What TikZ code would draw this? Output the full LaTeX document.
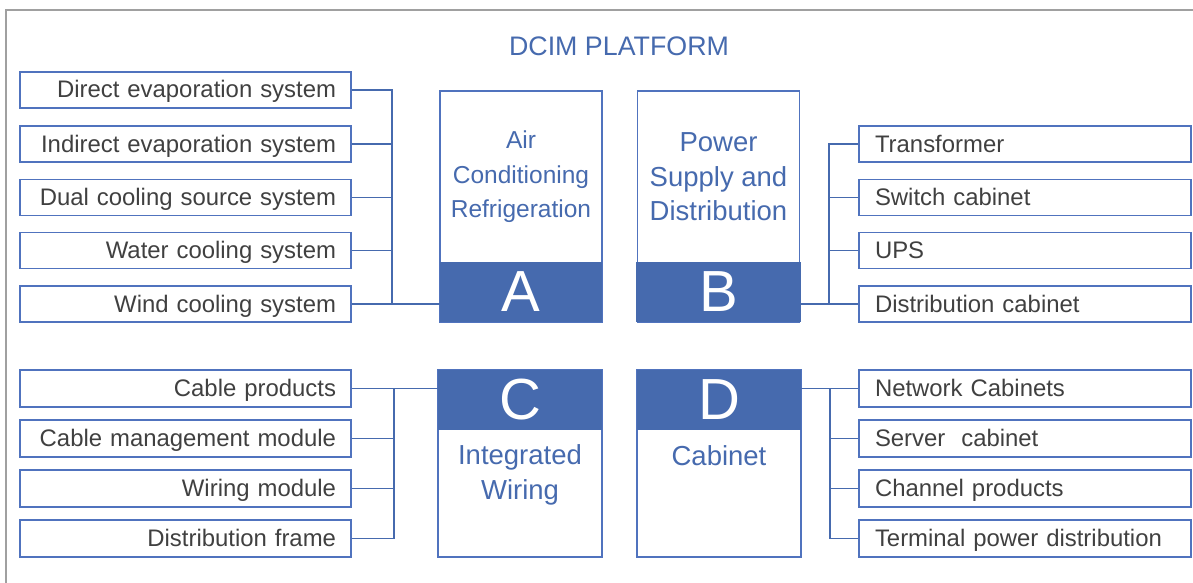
\documentclass[tikz,border=0pt]{standalone}
\usepackage{fontspec}
\setmainfont{Liberation Sans}
\definecolor{dblue}{RGB}{70,106,174}
\definecolor{lblue}{RGB}{80,115,190}
\definecolor{tgray}{RGB}{64,64,64}
\definecolor{bgray}{RGB}{160,160,160}
\tikzset{
  lbox/.style={draw=lblue, line width=1.3pt, minimum height=36pt, inner xsep=15pt, text width=301pt, text height=18pt, text depth=2pt, align=right, text=tgray, font=\fontsize{23.9}{28}\selectfont},
  rbox/.style={draw=lblue, line width=1.3pt, minimum height=36pt, inner xsep=16pt, text width=300pt, text height=18pt, text depth=2pt, align=left, text=tgray, font=\fontsize{23.9}{28}\selectfont},
  bigbox/.style={draw=lblue, line width=1.2pt, minimum width=162pt, inner sep=0pt},
  letbox/.style={fill=dblue, minimum width=162pt, minimum height=60pt, inner sep=0pt, text=white, font=\fontsize{58}{60}\selectfont},
  ctext/.style={align=center, text=dblue, inner sep=0pt},
  conn/.style={draw=dblue, line width=1.2pt},
}
\begin{document}
\begin{tikzpicture}[x=1pt,y=-1pt]
\useasboundingbox (0,0) rectangle (1193,583);
\draw[bgray, line width=2pt] (6,583) -- (6,10) -- (1193,10);
\node[ctext, font=\fontsize{26.8}{30}\selectfont] (title) at (619,46) {DCIM PLATFORM};

% left top boxes
\node[lbox] (l1) at (185.5,90) {Direct evaporation system};
\node[lbox] (l2) at (185.5,144) {Indirect evaporation system};
\node[lbox] (l3) at (185.5,197.5) {Dual cooling source system};
\node[lbox] (l4) at (185.5,250.5) {Water cooling system};
\node[lbox] (l5) at (185.5,304) {Wind cooling system};

% right top boxes
\node[rbox] (r1) at (1025,144) {Transformer};
\node[rbox] (r2) at (1025,197.5) {Switch cabinet};
\node[rbox] (r3) at (1025,250.5) {UPS};
\node[rbox] (r4) at (1025,304) {Distribution cabinet};

% left bottom boxes
\node[lbox, minimum height=37pt] (l6) at (185.5,388.5) {Cable products};
\node[lbox, minimum height=37pt] (l7) at (185.5,438.5) {Cable management module};
\node[lbox, minimum height=37pt] (l8) at (185.5,488.5) {Wiring module};
\node[lbox, minimum height=37pt] (l9) at (185.5,538.5) {Distribution frame};

% right bottom boxes
\node[rbox, minimum height=37pt] (r5) at (1025,388.5) {Network Cabinets};
\node[rbox, minimum height=37pt] (r6) at (1025,438.5) {Server\ \ cabinet};
\node[rbox, minimum height=37pt] (r7) at (1025,488.5) {Channel products};
\node[rbox, minimum height=37pt] (r8) at (1025,538.5) {Terminal power distribution};

% central boxes
\node[bigbox, minimum height=231pt] (A) at (521,206.5) {};
\node[letbox] (Al) at (521,292) {A};
\node[ctext, font=\fontsize{24.5}{34.5}\selectfont] (At) at (521,177) {Air\\Conditioning\\Refrigeration};

\node[bigbox, minimum height=231pt] (B) at (718.5,206.5) {};
\node[letbox, minimum width=165pt] (Bl) at (718.5,292) {B};
\node[ctext, font=\fontsize{27.5}{34.5}\selectfont] (Bt) at (718.5,177) {Power\\Supply and\\Distribution};

\node[bigbox, minimum height=187pt, minimum width=164pt] (C) at (520,463.5) {};
\node[letbox, minimum width=164pt] (Cl) at (520,400) {C};
\node[ctext, font=\fontsize{27.5}{35}\selectfont] (Ct) at (520,475) {Integrated\\Wiring};

\node[bigbox, minimum height=187pt, minimum width=164pt] (D) at (719,463.5) {};
\node[letbox, minimum width=164pt] (Dl) at (719,400) {D};
\node[ctext, font=\fontsize{27.5}{35}\selectfont] (Dt) at (719,456) {Cabinet};

% buses
\coordinate (bA) at (392,0);
\coordinate (bB) at (829,0);
\coordinate (bC) at (394,0);
\coordinate (bD) at (830,0);

\draw[conn] (l1.east) -- (l1.east -| bA) -- (l5.east -| bA);
\foreach \n in {l2,l3,l4,l5} \draw[conn] (\n.east) -- (\n.east -| bA);
\draw[conn] (l5.east -| bA) -- (l5.east -| Al.west);

\draw[conn] (r1.west) -- (r1.west -| bB) -- (r4.west -| bB);
\foreach \n in {r2,r3,r4} \draw[conn] (\n.west) -- (\n.west -| bB);
\draw[conn] (r4.west -| bB) -- (r4.west -| Bl.east);

\draw[conn] (l6.east) -- (l6.east -| bC) -- (l9.east -| bC);
\foreach \n in {l7,l8,l9} \draw[conn] (\n.east) -- (\n.east -| bC);
\draw[conn] (l6.east -| bC) -- (l6.east -| Cl.west);

\draw[conn] (r5.west) -- (r5.west -| bD) -- (r8.west -| bD);
\foreach \n in {r6,r7,r8} \draw[conn] (\n.west) -- (\n.west -| bD);
\draw[conn] (r5.west -| bD) -- (r5.west -| Dl.east);
\end{tikzpicture}
\end{document}
